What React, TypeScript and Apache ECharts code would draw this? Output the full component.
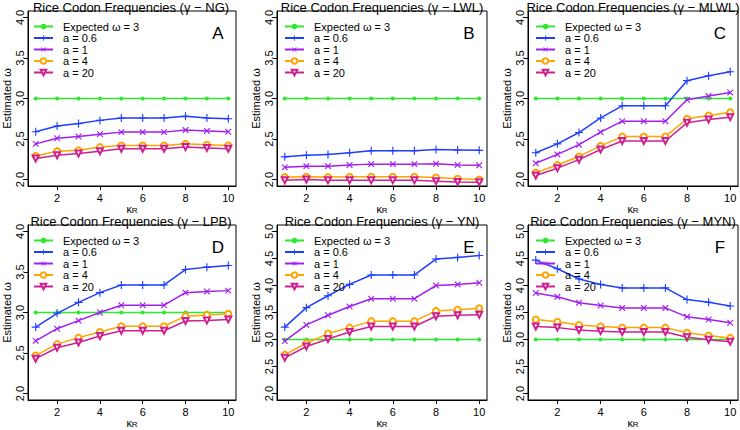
import React, { useEffect, useRef } from "react";
import * as echarts from "echarts";

const kappaR = [1, 2, 3, 4, 5, 6, 7, 8, 9, 10];
const expectedOmega = [3, 3, 3, 3, 3, 3, 3, 3, 3, 3];

const ng_a06 = [2.59, 2.66, 2.69, 2.73, 2.76, 2.76, 2.76, 2.78, 2.76, 2.75];
const ng_a1 = [2.44, 2.51, 2.53, 2.56, 2.585, 2.585, 2.585, 2.61, 2.6, 2.59];
const ng_a4 = [2.29, 2.35, 2.36, 2.4, 2.42, 2.42, 2.42, 2.44, 2.43, 2.42];
const ng_a20 = [2.26, 2.3, 2.32, 2.35, 2.38, 2.38, 2.38, 2.4, 2.39, 2.38];

const lwl_a06 = [2.28, 2.3, 2.31, 2.33, 2.355, 2.355, 2.355, 2.37, 2.365, 2.36];
const lwl_a1 = [2.15, 2.165, 2.165, 2.18, 2.19, 2.19, 2.19, 2.195, 2.18, 2.175];
const lwl_a4 = [2.03, 2.035, 2.03, 2.035, 2.035, 2.035, 2.035, 2.025, 2.01, 2.0];
const lwl_a20 = [1.99, 2.0, 1.99, 1.99, 1.99, 1.99, 1.99, 1.98, 1.97, 1.965];

const mlwl_a06 = [2.33, 2.44, 2.58, 2.76, 2.91, 2.91, 2.91, 3.22, 3.28, 3.33];
const mlwl_a1 = [2.2, 2.31, 2.43, 2.585, 2.72, 2.72, 2.72, 2.985, 3.03, 3.075];
const mlwl_a4 = [2.085, 2.18, 2.285, 2.415, 2.53, 2.53, 2.53, 2.75, 2.79, 2.83];
const mlwl_a20 = [2.05, 2.14, 2.245, 2.37, 2.475, 2.475, 2.475, 2.7, 2.74, 2.77];

const lpb_a06 = [2.82, 2.99, 3.125, 3.245, 3.34, 3.34, 3.34, 3.53, 3.56, 3.58];
const lpb_a1 = [2.65, 2.8, 2.9, 3.0, 3.09, 3.09, 3.09, 3.245, 3.26, 3.27];
const lpb_a4 = [2.47, 2.61, 2.69, 2.76, 2.83, 2.83, 2.83, 2.955, 2.97, 2.985];
const lpb_a20 = [2.43, 2.565, 2.63, 2.71, 2.775, 2.775, 2.775, 2.895, 2.9, 2.915];

const yn_a06 = [3.23, 3.59, 3.81, 4.02, 4.195, 4.195, 4.195, 4.49, 4.52, 4.555];
const yn_a1 = [2.97, 3.27, 3.45, 3.61, 3.755, 3.755, 3.755, 4.0, 4.02, 4.05];
const yn_a4 = [2.72, 2.93, 3.11, 3.22, 3.34, 3.34, 3.34, 3.53, 3.55, 3.58];
const yn_a20 = [2.66, 2.87, 3.01, 3.14, 3.24, 3.24, 3.24, 3.43, 3.45, 3.46];

const myn_a06 = [4.47, 4.31, 4.12, 4.02, 3.955, 3.955, 3.955, 3.74, 3.69, 3.62];
const myn_a1 = [3.86, 3.79, 3.68, 3.63, 3.585, 3.585, 3.585, 3.42, 3.37, 3.31];
const myn_a4 = [3.37, 3.33, 3.27, 3.24, 3.22, 3.22, 3.22, 3.125, 3.075, 3.03];
const myn_a20 = [3.24, 3.22, 3.175, 3.155, 3.14, 3.14, 3.14, 3.04, 2.995, 2.96];

const xTicks = [2, 4, 6, 8, 10];
const yTicksLow = [2, 2.5, 3, 3.5, 4];
const yTicksHigh = [2, 2.5, 3, 3.5, 4, 4.5, 5];

const seriesNames = ["Expected ω = 3", "a = 0.6", "a = 1", "a = 4", "a = 20"];
const panelTitles = [
  "Rice Codon Frequencies (γ − NG)",
  "Rice Codon Frequencies (γ − LWL)",
  "Rice Codon Frequencies (γ − MLWL)",
  "Rice Codon Frequencies (γ − LPB)",
  "Rice Codon Frequencies (γ − YN)",
  "Rice Codon Frequencies (γ − MYN)",
];
const panelLetters = ["A", "B", "C", "D", "E", "F"];
const panelData = [
  [ng_a06, ng_a1, ng_a4, ng_a20],
  [lwl_a06, lwl_a1, lwl_a4, lwl_a20],
  [mlwl_a06, mlwl_a1, mlwl_a4, mlwl_a20],
  [lpb_a06, lpb_a1, lpb_a4, lpb_a20],
  [yn_a06, yn_a1, yn_a4, yn_a20],
  [myn_a06, myn_a1, myn_a4, myn_a20],
];
const panelYTicks = [yTicksLow, yTicksLow, yTicksLow, yTicksLow, yTicksHigh, yTicksHigh];

const PLUS = "path://M4.3,0H5.7V4.3H10V5.7H5.7V10H4.3V5.7H0V4.3H4.3Z";
const colors = ["#2ee82e", "#1f3fff", "#a020f0", "#ffa500", "#d02090"];
const symbols = ["circle", PLUS, PLUS, "emptyCircle", "emptyTriangle"];
const symbolSizes = [4, 8, 8, 6, 6];
const symbolRotates = [0, 0, 45, 0, 180];

export default function App() {
  const ref = useRef<HTMLDivElement>(null);
  useEffect(() => {
    if (!ref.current) return;
    const chart = echarts.init(ref.current, undefined, { renderer: "svg" });
    const font = "'Liberation Sans', Arial, sans-serif";
    const lefts = [26, 277, 528];
    const tops = [11, 225];
    const W = 210;
    const H = 175;
    const grids: any[] = [];
    const xAxes: any[] = [];
    const yAxes: any[] = [];
    const series: any[] = [];
    const legends: any[] = [];
    const graphics: any[] = [];
    for (let p = 0; p < 6; p++) {
      const left = lefts[p % 3];
      const top = tops[Math.floor(p / 3)];
      grids.push({ left, top, width: W, height: H, show: true, borderColor: "#000", borderWidth: 1, backgroundColor: "transparent" });
      const yt = panelYTicks[p];
      const span = yt[yt.length - 1] - yt[0];
      xAxes.push({
        type: "value",
        gridIndex: p,
        min: 0.64,
        max: 10.36,
        axisLine: { show: true, lineStyle: { color: "#000", width: 1 } },
        axisTick: { show: true, customValues: xTicks, length: 4, lineStyle: { color: "#000" } },
        axisLabel: { customValues: xTicks, fontSize: 11, color: "#000", margin: 6, fontFamily: font },
        splitLine: { show: false },
        name: "{k|κ}{s|R}",
        nameLocation: "middle",
        nameGap: 11,
        nameTextStyle: {
          rich: {
            k: { fontSize: 11, color: "#000", fontFamily: font },
            s: { fontSize: 8, color: "#000", fontFamily: font, padding: [3, 0, 0, 0] },
          },
        },
      });
      yAxes.push({
        type: "value",
        gridIndex: p,
        min: yt[0] - span * 0.04,
        max: yt[yt.length - 1] + span * 0.04,
        axisLine: { show: true, lineStyle: { color: "#000", width: 1 } },
        axisTick: { show: true, customValues: yt, length: 4, lineStyle: { color: "#000" } },
        axisLabel: {
          customValues: yt,
          rotate: 90,
          fontSize: 11,
          color: "#000",
          margin: 3,
          fontFamily: font,
          formatter: (v: number) => v.toFixed(1),
        },
        splitLine: { show: false },
        name: "Estimated ω",
        nameLocation: "middle",
        nameGap: 16,
        nameRotate: 90,
        nameTextStyle: { fontSize: 11, color: "#000", fontFamily: font },
      });
      const lines = [expectedOmega, ...panelData[p]];
      lines.forEach((vals, i) => {
        series.push({
          type: "line",
          name: seriesNames[i],
          xAxisIndex: p,
          yAxisIndex: p,
          data: kappaR.map((k, j) => [k, vals[j]]),
          symbol: symbols[i],
          symbolSize: symbolSizes[i],
          symbolRotate: symbolRotates[i],
          showAllSymbol: true,
          lineStyle: { color: colors[i], width: 1.5 },
          itemStyle: { color: colors[i], borderColor: colors[i], borderWidth: i >= 3 ? 1.3 : 0 },
          z: 2 + i,
        });
      });
      legends.push({
        data: seriesNames,
        left: left + 2,
        top: top + 5,
        orient: "vertical",
        itemWidth: 19,
        itemHeight: 7,
        itemGap: 0.5,
        selectedMode: false,
        textStyle: { fontSize: 11, lineHeight: 11, color: "#000", fontFamily: font, padding: [0, 0, 0, 5] },
      });
      graphics.push({
        type: "text",
        x: left + W / 2,
        y: top - 10,
        style: { text: panelTitles[p], fill: "#000", font: `13px ${font}`, align: "center", verticalAlign: "top" },
      });
      graphics.push({
        type: "text",
        x: left + W - 18,
        y: top + 22,
        style: { text: panelLetters[p], fill: "#000", font: `17px ${font}`, align: "center", verticalAlign: "middle" },
      });
    }
    chart.setOption({
      animation: false,
      backgroundColor: "#fff",
      grid: grids,
      xAxis: xAxes,
      yAxis: yAxes,
      legend: legends,
      series,
      graphic: graphics,
    });
    return () => chart.dispose();
  }, []);
  return <div ref={ref} style={{ position: "fixed", left: 0, top: 0, width: 740, height: 430 }} />;
}
